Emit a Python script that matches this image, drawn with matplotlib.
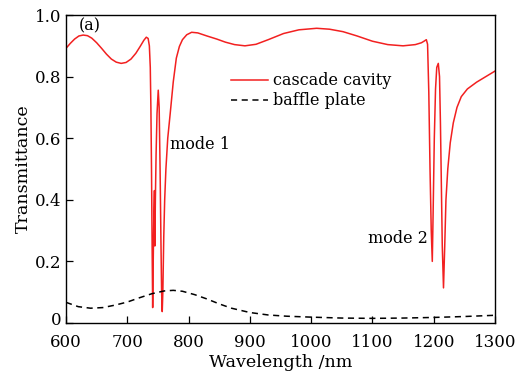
import matplotlib

matplotlib.use("Agg")
import matplotlib.pyplot as plt
import matplotlib.transforms as mtransforms

# cascade cavity transmittance
cavity_wl = [
    600, 607, 614, 621, 628, 635, 642, 650, 658, 666, 674, 682, 690, 698,
    706, 714, 721, 727, 731, 734, 736, 737.5, 738.5, 739.5, 740.5, 741.4,
    742.3, 743.3, 744.3, 745.0, 745.8, 747, 748.5, 750.5, 752, 753.5, 755,
    756, 757, 758, 759.5, 761, 763, 766, 770, 775, 780, 785, 790, 797, 805,
    815, 830, 846, 860, 875, 892, 910, 930, 955, 980, 1009, 1030, 1052,
    1075, 1100, 1125, 1150, 1170, 1180, 1185, 1188, 1190, 1192, 1194, 1196,
    1197.7, 1199, 1201, 1203, 1205, 1207.5, 1209.5, 1211, 1212.5, 1214,
    1216, 1218, 1220, 1223, 1227, 1232, 1238, 1245, 1255, 1270, 1285, 1300,
]
cavity_t = [
    0.892, 0.908, 0.922, 0.932, 0.935, 0.933, 0.925, 0.910, 0.892, 0.873,
    0.857, 0.847, 0.843, 0.846, 0.857, 0.876, 0.898, 0.918, 0.928, 0.924,
    0.900, 0.830, 0.700, 0.500, 0.250, 0.050, 0.200, 0.350, 0.430, 0.250,
    0.400, 0.550, 0.680, 0.756, 0.700, 0.500, 0.250, 0.100, 0.037, 0.100,
    0.280, 0.400, 0.500, 0.600, 0.680, 0.783, 0.860, 0.898, 0.920, 0.936,
    0.944, 0.942, 0.932, 0.922, 0.912, 0.904, 0.900, 0.905, 0.920, 0.940,
    0.952, 0.957, 0.954, 0.946, 0.932, 0.915, 0.904, 0.900, 0.904, 0.910,
    0.916, 0.920, 0.905, 0.750, 0.500, 0.300, 0.200, 0.350, 0.600, 0.760,
    0.830, 0.843, 0.800, 0.650, 0.450, 0.250, 0.114, 0.250, 0.400, 0.500,
    0.585, 0.650, 0.700, 0.735, 0.760, 0.782, 0.800, 0.818,
]

# baffle plate transmittance
baffle_wl = [
    600, 620, 640, 660, 680, 700, 720, 740, 760, 775, 790, 810, 830, 850,
    870, 900, 930, 960, 1000, 1050, 1100, 1150, 1200, 1250, 1300,
]
baffle_t = [
    0.067, 0.053, 0.048, 0.050, 0.058, 0.068, 0.082, 0.095, 0.104, 0.106,
    0.103, 0.092, 0.078, 0.062, 0.048, 0.034, 0.026, 0.022, 0.019, 0.016,
    0.015, 0.016, 0.018, 0.021, 0.025,
]

x_ticks = [600, 700, 800, 900, 1000, 1100, 1200, 1300]
y_ticks = [0, 0.2, 0.4, 0.6, 0.8, 1.0]
y_tick_labels = ["0", "0.2", "0.4", "0.6", "0.8", "1.0"]

plt.rcParams["font.family"] = ["DejaVu Serif"]
plt.rcParams["font.size"] = 11.5

figure = plt.figure(figsize=(5.17, 3.76), dpi=100)
axis = figure.add_axes([0.1277, 0.141, 0.8297, 0.819])

axis.plot(
    cavity_wl,
    cavity_t,
    color="#f22020",
    linewidth=1.1,
    label="cascade cavity",
)
axis.plot(
    baffle_wl,
    baffle_t,
    color="black",
    linewidth=1.1,
    linestyle=(0, (4, 3)),
    label="baffle plate",
)

axis.set_xlim(600, 1300)
axis.set_ylim(0, 1.0)
axis.set_xticks(x_ticks)
axis.set_yticks(y_ticks)
axis.set_yticklabels(y_tick_labels)
axis.tick_params(
    direction="in", length=5, width=0.9, top=False, right=False,
    labelsize=12,
)
axis.tick_params(axis="x", pad=8)
for spine in axis.spines.values():
    spine.set_linewidth(1.0)

# lift the "0" label a little so it clears the "600" below it
zero_label = axis.get_yticklabels()[0]
zero_label.set_transform(
    zero_label.get_transform()
    + mtransforms.ScaledTranslation(0, 3 / 72, figure.dpi_scale_trans)
)

axis.set_xlabel("Wavelength /nm", fontsize=12.6, labelpad=2)
axis.set_ylabel("Transmittance", fontsize=12.6, labelpad=2)

axis.text(770, 0.58, "mode 1", va="center", ha="left")
axis.text(1093, 0.275, "mode 2", va="center", ha="left")
axis.text(620, 0.965, "(a)", va="center", ha="left")

axis.legend(
    loc="upper left",
    bbox_to_anchor=(0.37, 0.835),
    frameon=False,
    handlelength=2.3,
    handletextpad=0.3,
    labelspacing=0.2,
    borderaxespad=0,
    fontsize=11.5,
)

figure.savefig("out.png", dpi=100)
plt.close(figure)
